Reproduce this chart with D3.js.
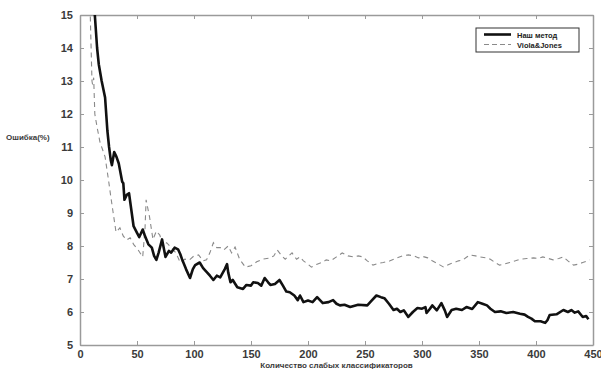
<!DOCTYPE html>
<html>
<head>
<meta charset="utf-8">
<script src="https://cdn.jsdelivr.net/npm/d3@7"></script>
<style>
  html, body { margin: 0; padding: 0; background: #fff; }
  #chart { width: 601px; height: 369px; }
  text { font-family: "Liberation Sans", Arial, sans-serif; font-weight: bold; }
</style>
</head>
<body>
<div id="chart"></div>
<script>
// Data
const seriesNames = ['Наш метод', 'Viola&Jones'];

const oursX = [12, 13, 15, 16.5, 19, 22, 24, 25.5, 27, 28, 30, 32, 34, 37, 38, 39, 41, 43, 45, 47, 50, 52, 55, 57, 60, 63, 65, 67, 69, 72, 75, 78, 80, 83, 86, 88, 89.5, 93, 96.5, 99, 101, 105, 108, 112, 114, 117, 120, 123, 127, 129, 130, 132, 134, 138, 143, 146, 150, 152, 156, 159, 162, 165, 167, 171, 175, 178, 181, 184, 188, 191, 193, 196, 200, 204, 208, 213, 218, 222, 225, 228, 232, 237, 244, 252, 256, 260, 264, 267, 271, 275, 278, 281, 284, 288, 292, 296, 300, 303, 304, 307, 309, 313, 317, 320, 322, 326, 330, 335, 339, 344, 349, 353, 357, 360, 364, 369, 374, 380, 386, 390, 393, 396, 399, 404, 408, 410, 412, 418, 424, 428, 431, 434, 437, 441, 444, 446];
const oursY = [16, 15, 14, 13.5, 13.0, 12.5, 11.5, 11.0, 10.6, 10.45, 10.85, 10.7, 10.5, 9.95, 9.9, 9.4, 9.55, 9.6, 9.1, 8.6, 8.4, 8.27, 8.5, 8.3, 8.05, 7.95, 7.7, 7.58, 7.8, 8.2, 7.67, 7.85, 7.8, 7.95, 7.9, 7.75, 7.6, 7.3, 7.03, 7.3, 7.42, 7.5, 7.33, 7.18, 7.1, 6.97, 7.1, 7.05, 7.3, 7.45, 7.2, 6.9, 6.97, 6.75, 6.7, 6.82, 6.8, 6.9, 6.88, 6.8, 7.03, 6.9, 6.82, 6.85, 6.97, 6.8, 6.62, 6.6, 6.5, 6.36, 6.5, 6.3, 6.35, 6.3, 6.45, 6.27, 6.3, 6.36, 6.25, 6.2, 6.22, 6.15, 6.22, 6.2, 6.35, 6.5, 6.45, 6.42, 6.25, 6.06, 6.1, 6.0, 6.05, 5.85, 6.0, 6.12, 6.1, 6.15, 5.97, 6.1, 6.2, 6.05, 6.27, 6.05, 5.85, 6.06, 6.1, 6.06, 6.15, 6.09, 6.3, 6.25, 6.2, 6.1, 6.0, 6.02, 5.97, 6.0, 5.95, 5.92, 5.85, 5.8, 5.72, 5.72, 5.67, 5.75, 5.91, 5.93, 6.06, 6.0, 6.06, 5.98, 6.02, 5.85, 5.88, 5.78];

const vjX = [8, 9, 10.5, 11, 12, 13, 15, 17.5, 20, 22, 25, 27, 29, 31.6, 35, 38, 41, 44, 47, 51, 55, 57, 58, 61, 64, 67, 70, 73, 76, 80, 84, 88, 92, 96, 100, 104, 108, 111, 114, 117, 120, 123, 126, 130, 133, 136, 140, 145, 150, 155, 160, 167, 170, 173, 177, 180, 183, 186, 190, 193, 196, 200, 203, 208, 212, 216, 220, 225, 230, 235, 240, 244, 248, 252, 257, 262, 266, 272, 278, 283, 288, 293, 297, 301, 305, 309, 313, 319, 324, 328, 332, 336, 339, 342, 347, 351, 356, 360, 364, 368, 372, 377, 382, 386, 392, 398, 402, 406, 411, 415, 420, 424, 428, 433, 437, 441, 445, 447];
const vjY = [15.5, 15, 13.0, 12.9, 13.1, 12.0, 11.6, 11.15, 10.9, 10.7, 10.0, 9.5, 9.03, 8.42, 8.55, 8.3, 8.18, 8.25, 8.05, 7.88, 7.67, 8.5, 9.4, 8.88, 8.2, 8.45, 8.33, 8.0, 8.1, 7.95, 7.8, 7.5, 7.6, 7.58, 7.7, 7.73, 7.55, 7.58, 7.8, 8.1, 7.95, 7.95, 7.88, 8.0, 7.79, 7.97, 7.6, 7.36, 7.4, 7.52, 7.6, 7.64, 7.7, 7.88, 7.7, 7.6, 7.7, 7.79, 7.6, 7.67, 7.55, 7.45, 7.36, 7.45, 7.5, 7.58, 7.55, 7.67, 7.79, 7.7, 7.67, 7.7, 7.67, 7.55, 7.42, 7.48, 7.5, 7.55, 7.64, 7.7, 7.73, 7.7, 7.64, 7.68, 7.64, 7.55, 7.48, 7.36, 7.45, 7.5, 7.55, 7.58, 7.66, 7.73, 7.7, 7.67, 7.64, 7.6, 7.5, 7.42, 7.45, 7.5, 7.55, 7.6, 7.62, 7.64, 7.62, 7.67, 7.62, 7.58, 7.62, 7.67, 7.55, 7.42, 7.45, 7.5, 7.55, 7.58];

const xTicks = [0, 50, 100, 150, 200, 250, 300, 350, 400, 450];
const yTicks = [5, 6, 7, 8, 9, 10, 11, 12, 13, 14, 15];

const width = 601;
const height = 369;
const margin = { top: 15, right: 8, bottom: 24, left: 80 };
const innerWidth = width - margin.left - margin.right;
const innerHeight = height - margin.top - margin.bottom;

const svg = d3.select('#chart')
  .append('svg')
  .attr('width', width)
  .attr('height', height);

const x = d3.scaleLinear().domain([0, 450]).range([0, innerWidth]);
const y = d3.scaleLinear().domain([5, 15]).range([innerHeight, 0]);

const chart = svg.append('g')
  .attr('transform', `translate(${margin.left},${margin.top})`);

svg.append('defs').append('clipPath')
  .attr('id', 'plot-clip')
  .append('rect')
  .attr('width', innerWidth)
  .attr('height', innerHeight);

const axisColor = '#9a9a9a';
const labelColor = '#3a3a3a';

// axes, ticks pointing inward (matlab style box)
function styleAxis(g) {
  g.select('.domain').attr('stroke', axisColor).attr('stroke-width', 1.5);
  g.selectAll('.tick line').attr('stroke', axisColor).attr('stroke-width', 1);
  g.selectAll('.tick text')
    .attr('fill', labelColor)
    .style('font-size', '11px')
    .style('font-weight', 'bold')
    .style('font-family', '"Liberation Sans", Arial, sans-serif');
}

chart.append('g')
  .attr('transform', `translate(0,${innerHeight})`)
  .call(d3.axisBottom(x).tickValues(xTicks).tickSize(-4).tickPadding(5).tickSizeOuter(0))
  .call(styleAxis);

chart.append('g')
  .call(d3.axisTop(x).tickValues(xTicks).tickSize(-4).tickSizeOuter(0))
  .call(styleAxis)
  .call(g => g.selectAll('.tick text').remove());

chart.append('g')
  .call(d3.axisLeft(y).tickValues(yTicks).tickSize(-4).tickPadding(7).tickSizeOuter(0))
  .call(styleAxis);

chart.append('g')
  .attr('transform', `translate(${innerWidth},0)`)
  .call(d3.axisRight(y).tickValues(yTicks).tickSize(-4).tickSizeOuter(0))
  .call(styleAxis)
  .call(g => g.selectAll('.tick text').remove());

const line = d3.line()
  .x(d => x(d[0]))
  .y(d => y(d[1]));

const plot = chart.append('g').attr('clip-path', 'url(#plot-clip)');

plot.append('path')
  .datum(d3.zip(vjX, vjY))
  .attr('fill', 'none')
  .attr('stroke', '#8a8a8a')
  .attr('stroke-width', 1.1)
  .attr('stroke-dasharray', '5,4')
  .attr('d', line);

plot.append('path')
  .datum(d3.zip(oursX, oursY))
  .attr('fill', 'none')
  .attr('stroke', '#111')
  .attr('stroke-width', 2.6)
  .attr('stroke-linejoin', 'round')
  .attr('d', line);

// axis titles
svg.append('text')
  .attr('x', 6)
  .attr('y', 140)
  .attr('fill', labelColor)
  .style('font-size', '8px')
  .text('Ошибка(%)');

svg.append('text')
  .attr('x', margin.left + innerWidth / 2)
  .attr('y', 368)
  .attr('text-anchor', 'middle')
  .attr('fill', labelColor)
  .style('font-size', '8px')
  .text('Количество слабых классификаторов');

// legend
const legend = svg.append('g').attr('transform', 'translate(476,28)');
legend.append('rect')
  .attr('width', 103)
  .attr('height', 24)
  .attr('fill', '#fff')
  .attr('stroke', '#333')
  .attr('stroke-width', 1);

const legendStyles = [
  { stroke: '#111', width: 2.6, dash: null },
  { stroke: '#8a8a8a', width: 1.1, dash: '5,3' }
];

seriesNames.forEach((name, i) => {
  const row = legend.append('g').attr('transform', `translate(0,${6.5 + i * 10})`);
  row.append('line')
    .attr('x1', 8).attr('x2', 35)
    .attr('y1', 0).attr('y2', 0)
    .attr('stroke', legendStyles[i].stroke)
    .attr('stroke-width', legendStyles[i].width)
    .attr('stroke-dasharray', legendStyles[i].dash);
  row.append('text')
    .attr('x', 41)
    .attr('y', 3)
    .attr('fill', '#222')
    .style('font-size', '7.5px')
    .text(name);
});
</script>
</body>
</html>
